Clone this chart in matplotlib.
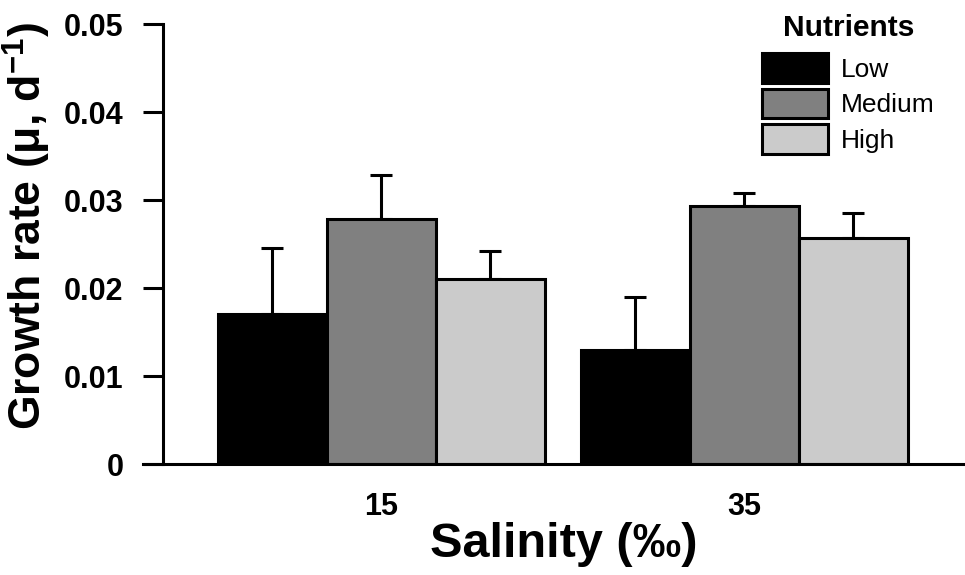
import matplotlib
matplotlib.use("Agg")
import matplotlib.pyplot as plt
import numpy as np

plt.rcParams['font.family'] = ['Liberation Sans', 'DejaVu Sans']
plt.rcParams['mathtext.default'] = 'regular'

salinity = ["15", "35"]
nutrients = ["Low", "Medium", "High"]
means = {
    "Low":    [0.0170, 0.0130],
    "Medium": [0.0278, 0.0293],
    "High":   [0.0210, 0.0257],
}
errors = {
    "Low":    [0.0075, 0.0060],
    "Medium": [0.0050, 0.0015],
    "High":   [0.0032, 0.0028],
}
colors = {"Low": "#000000", "Medium": "#808080", "High": "#cbcbcb"}
yticks = [0, 0.01, 0.02, 0.03, 0.04, 0.05]
ytick_labels = ["0", "0.01", "0.02", "0.03", "0.04", "0.05"]

W, H = 965, 575
fig = plt.figure(figsize=(W / 100, H / 100), dpi=100)
ax = fig.add_axes([163 / W, 1 - 464 / H, 1 - 163 / W, (464 - 24) / H])

x = np.arange(len(salinity))
w = 0.30
for i, n in enumerate(nutrients):
    pos = x + (i - 1) * w
    vals = means[n]
    errs = errors[n]
    ax.errorbar(pos, vals, yerr=[np.zeros(len(errs)), errs], fmt='none',
                ecolor='black', elinewidth=2.2, capsize=8, capthick=2.2, zorder=1)
    ax.bar(pos, vals, width=w, color=colors[n], edgecolor='black',
           linewidth=2.2, label=n, zorder=2)

ax.set_xlim(-0.6, 1.607)
ax.set_ylim(0, 0.05)
ax.set_yticks(yticks)
ax.set_yticklabels(ytick_labels)
ax.set_xticks(x)
ax.set_xticklabels(salinity)
ax.tick_params(axis='y', length=14.4, width=2.2, labelsize=22, pad=14)
ax.tick_params(axis='x', length=0, labelsize=22, pad=20)
for lab in ax.get_xticklabels() + ax.get_yticklabels():
    lab.set_fontweight('bold')

for s in ['top', 'right']:
    ax.spines[s].set_visible(False)
ax.spines['left'].set_linewidth(2.2)
ax.spines['bottom'].set_linewidth(2.2)
ax.spines['bottom'].set_bounds(-0.6 - 20 / 363.5, 1.607)
ax.spines['bottom'].set_clip_on(False)

ax.set_ylabel("Growth rate (μ, d$^{-1}$)", fontsize=32, fontweight='bold')
ax.yaxis.set_label_coords(-0.137, 0.541)
ax.set_xlabel("Salinity (‰)", fontsize=35, fontweight='bold', labelpad=0)

leg = ax.legend(title="Nutrients", loc='upper left',
                bbox_to_anchor=(762 / W, 1 - 14 / H), bbox_transform=fig.transFigure,
                frameon=False, fontsize=19, handlelength=2.5, handleheight=1.35,
                handletextpad=0.5, labelspacing=0.22, borderpad=0, borderaxespad=0)
leg.get_title().set_fontweight('bold')
leg.get_title().set_fontsize(21.5)
leg._legend_box.sep = 8

fig.savefig("out.png", dpi=100)
